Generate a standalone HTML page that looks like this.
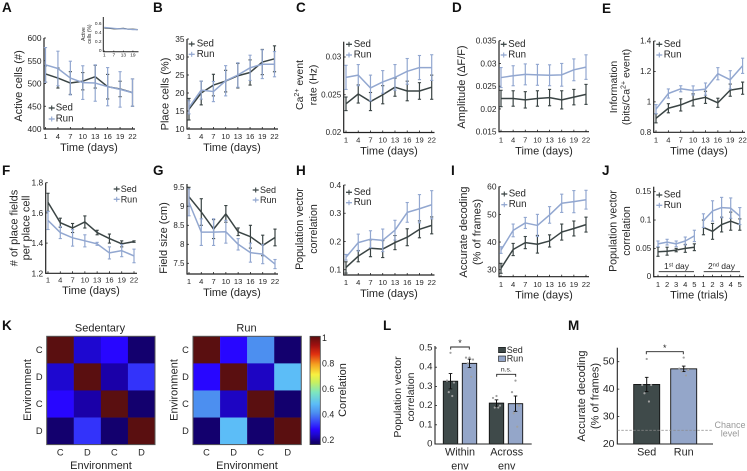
<!DOCTYPE html>
<html lang="en">
<head>
<meta charset="utf-8">
<title>Behavioral and calcium imaging panels</title>
<style>
html,body{margin:0;padding:0;background:#fff;}
svg{display:block;filter:blur(.3px);}
text{font-family:"Liberation Sans",Arial,sans-serif;fill:#262626;}
.ltr{font-weight:bold;font-size:13.5px;fill:#111;}
.t{font-size:11px;text-anchor:middle;dominant-baseline:central;}
.yl{font-size:11px;text-anchor:middle;dominant-baseline:central;}
</style>
</head>
<body>
<svg id="fig" xmlns="http://www.w3.org/2000/svg" width="747" height="471" viewBox="0 0 747 471">
<rect width="747" height="471" fill="#fff"/>
<g>
<text class="ltr" x="2" y="12">A</text>
<text class="ltr" x="153" y="12">B</text>
<text class="ltr" x="296" y="12">C</text>
<text class="ltr" x="452" y="12">D</text>
<text class="ltr" x="602" y="13">E</text>
<text class="ltr" x="2" y="175">F</text>
<text class="ltr" x="153" y="175">G</text>
<text class="ltr" x="296" y="175">H</text>
<text class="ltr" x="451" y="175">I</text>
<text class="ltr" x="602" y="175">J</text>
<text class="ltr" x="2" y="330">K</text>
<text class="ltr" x="383" y="330">L</text>
<text class="ltr" x="568" y="330">M</text>
</g>
<g>
<text class="t" x="89" y="148">Time (days)</text>
<text class="t" x="232" y="148">Time (days)</text>
<text class="t" x="389" y="151.5">Time (days)</text>
<text class="t" x="544" y="151.5">Time (days)</text>
<text class="t" x="699" y="151.5">Time (days)</text>
<text class="t" x="91" y="291">Time (days)</text>
<text class="t" x="232" y="293">Time (days)</text>
<text class="t" x="389" y="294">Time (days)</text>
<text class="t" x="544" y="295.5">Time (days)</text>
<text class="t" x="699" y="295.5">Time (trials)</text>
<text class="yl" transform="translate(19,86) rotate(-90)">Active cells (#)</text>
<text class="yl" transform="translate(165.5,94) rotate(-90)">Place cells (%)</text>
<text class="yl" transform="translate(300,85) rotate(-90)" style="font-size:10.5px">Ca<tspan dy="-3" font-size="7">2+</tspan><tspan dy="3"> event</tspan></text>
<text class="yl" transform="translate(313.5,85) rotate(-90)" style="font-size:10.5px">rate (Hz)</text>
<text class="yl" transform="translate(462,87) rotate(-90)">Amplitude (ΔF/F)</text>
<text class="yl" transform="translate(614,87) rotate(-90)" style="font-size:10.5px">Information</text>
<text class="yl" transform="translate(626.5,87) rotate(-90)" style="font-size:10.5px">(bits/Ca<tspan dy="-3" font-size="7">2+</tspan><tspan dy="3"> event)</tspan></text>
<text class="yl" transform="translate(14.5,228) rotate(-90)"># of place fields</text>
<text class="yl" transform="translate(26.5,228) rotate(-90)">per place cell</text>
<text class="yl" transform="translate(164,238) rotate(-90)">Field size (cm)</text>
<text class="yl" transform="translate(300,229) rotate(-90)" style="font-size:10.6px">Population vector</text>
<text class="yl" transform="translate(314,229) rotate(-90)" style="font-size:10.6px">correlation</text>
<text class="yl" transform="translate(464,232) rotate(-90)">Accurate decoding</text>
<text class="yl" transform="translate(477.5,232) rotate(-90)">(% of frames)</text>
<text class="yl" transform="translate(613.5,231) rotate(-90)" style="font-size:10.6px">Population vector</text>
<text class="yl" transform="translate(627,231) rotate(-90)" style="font-size:10.6px">correlation</text>
<text x="676.5" y="269" text-anchor="middle" font-size="8.5">1<tspan dy="-2.5" font-size="5.5">st</tspan><tspan dy="2.5"> day</tspan></text>
<text x="721.5" y="269" text-anchor="middle" font-size="8.5">2<tspan dy="-2.5" font-size="5.5">nd</tspan><tspan dy="2.5"> day</tspan></text>
<text transform="translate(84,34) rotate(-90)" text-anchor="middle" dominant-baseline="central" font-size="5">Active</text>
<text transform="translate(90,34) rotate(-90)" text-anchor="middle" dominant-baseline="central" font-size="5">cells (%)</text>
<text x="100" y="328.5" text-anchor="middle" dominant-baseline="central" font-size="11">Sedentary</text>
<text x="246.5" y="328.5" text-anchor="middle" dominant-baseline="central" font-size="11">Run</text>
<text x="101" y="466" text-anchor="middle" dominant-baseline="central" font-size="11">Environment</text>
<text x="247" y="466" text-anchor="middle" dominant-baseline="central" font-size="11">Environment</text>
<text transform="translate(28,390) rotate(-90)" text-anchor="middle" dominant-baseline="central" font-size="11">Environment</text>
<text transform="translate(174.5,390) rotate(-90)" text-anchor="middle" dominant-baseline="central" font-size="11">Environment</text>
<text transform="translate(343,390) rotate(-90)" text-anchor="middle" dominant-baseline="central" font-size="11">Correlation</text>
<text transform="translate(398,397) rotate(-90)" text-anchor="middle" dominant-baseline="central" font-size="10.5">Population vector</text>
<text transform="translate(411,397) rotate(-90)" text-anchor="middle" dominant-baseline="central" font-size="10.5">correlation</text>
<text transform="translate(582,396) rotate(-90)" text-anchor="middle" dominant-baseline="central" font-size="11">Accurate decoding</text>
<text transform="translate(595.5,396) rotate(-90)" text-anchor="middle" dominant-baseline="central" font-size="11">(% of frames)</text>
<text x="730" y="428" text-anchor="middle" font-size="9" style="fill:#999">Chance</text>
<text x="730" y="436.5" text-anchor="middle" font-size="9" style="fill:#999">level</text>
</g>
</svg>
<script>
const seriesNames = ['Sed', 'Run'];
const days = [1, 4, 7, 10, 13, 16, 19, 22];
const trials = [1, 2, 3, 4, 5, 1, 2, 3, 4, 5];
const insetDays = [1, 4, 7, 10, 13, 16, 19, 22];
const insetDayLabels = [1, 7, 13, 19];

const aTicks = [400, 450, 500, 550, 600];
const aSed = [521, 512, 501, 505, 515, 493, 488, 480];
const aRun = [541, 533, 512, 502, 501, 493, 487, 480];
const aSedErr = [18, 22, 25, 19, 25, 27, 17, 30];
const aRunErr = [38, 38, 37, 37, 40, 42, 39, 30];
const insetTicks = [0, 0.2, 0.4, 0.6];
const insetSed = [0.53, 0.52, 0.51, 0.51, 0.52, 0.5, 0.5, 0.49];
const insetRun = [0.54, 0.53, 0.52, 0.51, 0.51, 0.5, 0.49, 0.49];

const bTicks = [10, 15, 20, 25, 30, 35];
const bSed = [15.5, 20, 22.2, 23.3, 24.8, 25.7, 28.6, 29.5];
const bRun = [16, 20.8, 20.4, 23.4, 25, 27, 28, 28];
const bSedErr = [3, 3.3, 3, 3, 3.4, 3.5, 3.5, 3.6];
const bRunErr = [1.8, 2.5, 2.8, 4.2, 3.4, 3.5, 4, 3.5];

const cTicks = [0.02, 0.025, 0.03];
const cSed = [0.0238, 0.0251, 0.0241, 0.025, 0.026, 0.0255, 0.0255, 0.026];
const cRun = [0.0273, 0.0276, 0.0259, 0.0267, 0.0273, 0.0281, 0.0286, 0.0286];
const cSedErr = [0.0009, 0.0012, 0.0012, 0.0012, 0.0012, 0.0013, 0.0011, 0.0016];
const cRunErr = [0.0016, 0.0014, 0.0017, 0.0015, 0.0017, 0.0017, 0.0016, 0.0017];

const dTicks = [0.015, 0.02, 0.025, 0.03, 0.035];
const dSed = [0.0223, 0.0223, 0.022, 0.0223, 0.0225, 0.022, 0.0226, 0.0232];
const dRun = [0.0269, 0.0273, 0.0276, 0.0275, 0.0274, 0.0275, 0.0286, 0.0292];
const dSedErr = [0.0018, 0.0017, 0.0018, 0.0017, 0.0018, 0.002, 0.0017, 0.0022];
const dRunErr = [0.0022, 0.0022, 0.0023, 0.0023, 0.0023, 0.0025, 0.0024, 0.0027];

const eTicks = [0.8, 1, 1.2, 1.4];
const eSed = [0.892, 0.958, 0.98, 1.013, 1.03, 0.994, 1.077, 1.09];
const eRun = [0.952, 1.055, 1.086, 1.075, 1.084, 1.185, 1.145, 1.237];
const eSedErr = [0.03, 0.03, 0.04, 0.04, 0.04, 0.03, 0.04, 0.04];
const eRunErr = [0.03, 0.03, 0.02, 0.03, 0.04, 0.04, 0.06, 0.05];

const fTicks = [1.2, 1.4, 1.6, 1.8];
const fSed = [1.67, 1.535, 1.5, 1.54, 1.47, 1.43, 1.395, 1.41];
const fRun = [1.55, 1.47, 1.435, 1.415, 1.395, 1.335, 1.35, 1.315];
const fSedErr = [0.06, 0.03, 0.03, 0.04, 0.015, 0.03, 0.02, 0.005];
const fRunErr = [0.06, 0.04, 0.055, 0.04, 0.01, 0.04, 0.04, 0.045];

const gTicks = [7.5, 8, 8.5, 9, 9.5];
const gSed = [9.25, 8.85, 8.4, 8.8, 8.33, 8.2, 7.97, 8.18];
const gRun = [9.1, 8.32, 8.32, 8.33, 8, 7.78, 7.74, 7.48];
const gSedErr = [0.25, 0.35, 0.25, 0.22, 0.1, 0.3, 0.27, 0.22];
const gRunErr = [0.35, 0.35, 0.35, 0.3, 0.15, 0.25, 0.25, 0.12];

const hTicks = [0.1, 0.2, 0.3, 0.4];
const hSed = [0.108, 0.148, 0.176, 0.173, 0.196, 0.215, 0.243, 0.257];
const hRun = [0.144, 0.196, 0.208, 0.204, 0.24, 0.303, 0.316, 0.33];
const hSedErr = [0.02, 0.02, 0.03, 0.03, 0.025, 0.03, 0.03, 0.03];
const hRunErr = [0.01, 0.03, 0.03, 0.04, 0.035, 0.035, 0.05, 0.05];

const iTicks = [30, 40, 50, 60];
const iSed = [30.5, 37.3, 39.8, 39.2, 40.4, 43.6, 44.9, 46.3];
const iRun = [37.1, 44.2, 46.9, 46, 49.8, 54, 54.6, 55.3];
const iSedErr = [1.8, 2.2, 2.2, 3.2, 2.2, 2.9, 2.7, 2.7];
const iRunErr = [1.2, 2.3, 2, 4, 3, 3.3, 4, 3.4];

const jTicks = [0, 0.05, 0.1, 0.15];
const jSed = [0.044, 0.045, 0.047, 0.05, 0.052, 0.087, 0.08, 0.092, 0.098, 0.092];
const jRun = [0.058, 0.061, 0.058, 0.063, 0.072, 0.099, 0.116, 0.122, 0.121, 0.107];
const jSedErr = [0.008, 0.007, 0.003, 0.007, 0.006, 0.013, 0.014, 0.013, 0.016, 0.01];
const jRunErr = [0.005, 0.005, 0.005, 0.007, 0.01, 0.012, 0.018, 0.018, 0.018, 0.015];

const envLabels = ['C', 'D', 'C', 'D'];
const sedMatrix = [[1, 0.23, 0.27, 0.17], [0.23, 1, 0.2, 0.31], [0.27, 0.2, 1, 0.17], [0.17, 0.31, 0.17, 1]];
const runMatrix = [[1, 0.27, 0.4, 0.17], [0.27, 1, 0.22, 0.47], [0.4, 0.22, 1, 0.17], [0.17, 0.47, 0.17, 1]];
const colorbarTicks = [0.2, 0.4, 0.6, 0.8, 1];

const lTicks = [0, 0.1, 0.2, 0.3, 0.4, 0.5];
const lGroups = ['Within', 'Across'];
const lSedBars = [0.327, 0.213];
const lRunBars = [0.42, 0.21];
const lSedErr = [0.04, 0.017];
const lRunErr = [0.022, 0.04];
const lSedDots = [[0.475, 0.33, 0.32, 0.27, 0.25], [0.25, 0.24, 0.2, 0.19, 0.19]];
const lRunDots = [[0.45, 0.45, 0.44, 0.42, 0.35], [0.33, 0.27, 0.2, 0.16, 0.09]];

const mTicks = [20, 30, 40, 50];
const mBars = [41.7, 47.4];
const mErr = [2.6, 1];
const mDots = [[51, 41.5, 41.5, 38.5, 35.5], [51.5, 47.5, 47, 46.5, 45]];
const chanceLevel = 25;

const NS = 'http://www.w3.org/2000/svg';
const SED = '#3a4444';
const RUN = '#92a7d0';
const AX = '#222222';
const fig = document.getElementById('fig');

function el(parent, tag, attrs, name) {
  const e = document.createElementNS(NS, tag);
  for (const k in attrs) e.setAttribute(k, attrs[k]);
  
  
  parent.appendChild(e);
  return e;
}
function ln(parent, x1, y1, x2, y2, stroke, w, name) {
  return el(parent, 'line', {x1: x1, y1: y1, x2: x2, y2: y2, stroke: stroke, 'stroke-width': w}, name);
}
function label(parent, x, y, str, size, anchor, name) {
  const t = el(parent, 'text', {x: x, y: y, 'font-size': size, 'text-anchor': anchor, 'dominant-baseline': 'central'}, name);
  t.textContent = str;
  return t;
}
function linScale(v0, p0, v1, p1) {
  return function (v) { return p0 + (v - v0) * (p1 - p0) / (v1 - v0); };
}

function series(g, xs, y, vals, errs, color, name, breakAfter) {
  const segs = breakAfter === undefined ? [[0, vals.length - 1]] : [[0, breakAfter], [breakAfter + 1, vals.length - 1]];
  segs.forEach(function (s, si) {
    const pts = [];
    for (let i = s[0]; i <= s[1]; i++) pts.push(xs(i).toFixed(2) + ',' + y(vals[i]).toFixed(2));
    el(g, 'polyline', {points: pts.join(' '), fill: 'none', stroke: color, 'stroke-width': 1.5, 'stroke-linejoin': 'round'}, name + '-line-' + si);
  });
  vals.forEach(function (v, i) {
    const x = xs(i);
    ln(g, x, y(v - errs[i]), x, y(v + errs[i]), color, 1.2, name + '-error-' + i);
    ln(g, x - 1.6, y(v - errs[i]), x + 1.6, y(v - errs[i]), color, 1.1, name + '-cap-low-' + i);
    ln(g, x - 1.6, y(v + errs[i]), x + 1.6, y(v + errs[i]), color, 1.1, name + '-cap-high-' + i);
  });
}

function panel(p) {
  const g = el(fig, 'g', {}, 'panel-' + p.id);
  const y = linScale(p.ticks[0], p.y0, p.ticks[p.ticks.length - 1], p.y1);
  const n = p.cats.length;
  const xs = function (i) { return p.x0 + i * (p.x1 - p.x0) / (n - 1); };
  ln(g, p.ax, p.top, p.ax, p.bottom + 0.6, AX, 1.2, p.id + '-y-axis');
  ln(g, p.ax, p.bottom, p.xEnd, p.bottom, AX, 1.2, p.id + '-x-axis');
  p.ticks.forEach(function (t, i) {
    ln(g, p.ax, y(t), p.ax + 2, y(t), AX, 0.8, p.id + '-y-tick-' + i);
    label(g, p.ax - 2.5, y(t), String(t), p.fs, 'end', p.id + '-y-tick-label-' + i);
  });
  p.cats.forEach(function (c, i) {
    ln(g, xs(i), p.bottom, xs(i), p.bottom - 2, AX, 0.8, p.id + '-x-tick-' + i);
    label(g, xs(i), p.tickY, String(c), 7.6, 'middle', p.id + '-x-tick-label-' + i);
  });
  series(g, xs, y, p.sed, p.sedErr, SED, p.id + '-sed', p.breakAfter);
  series(g, xs, y, p.run, p.runErr, RUN, p.id + '-run', p.breakAfter);
  seriesNames.forEach(function (nm, i) {
    const c = i === 0 ? SED : RUN;
    const ly = i === 0 ? p.leg[2] : p.leg[3];
    ln(g, p.leg[0] - 3, ly, p.leg[0] + 3, ly, c, 1.3, p.id + '-legend-line-' + nm);
    ln(g, p.leg[0], ly - 2.5, p.leg[0], ly + 2.5, c, 1.1, p.id + '-legend-tick-' + nm);
    label(g, p.leg[1], ly, nm, p.legFs || 9.7, 'start', p.id + '-legend-label-' + nm);
  });
}

panel({id: 'a', cats: days, ticks: aTicks, sed: aSed, run: aRun, sedErr: aSedErr, runErr: aRunErr, ax: 44, top: 38, bottom: 129, xEnd: 135, x0: 45.5, x1: 132.5, y0: 129, y1: 38, tickY: 136.7, fs: 8.4, leg: [51.7, 55.7, 108, 119]});
panel({id: 'b', cats: days, ticks: bTicks, sed: bSed, run: bRun, sedErr: bSedErr, runErr: bRunErr, ax: 187, top: 39, bottom: 129, xEnd: 278, x0: 189, x1: 274.5, y0: 129, y1: 39, tickY: 136.7, fs: 8.3, leg: [191.7, 196.7, 44, 54.3]});
panel({id: 'c', cats: days, ticks: cTicks, sed: cSed, run: cRun, sedErr: cSedErr, runErr: cRunErr, ax: 343.7, top: 41.7, bottom: 132.5, xEnd: 434.5, x0: 346, x1: 431.7, y0: 132.5, y1: 57, tickY: 140, fs: 8, leg: [349, 353.7, 44.3, 55]});
panel({id: 'd', cats: days, ticks: dTicks, sed: dSed, run: dRun, sedErr: dSedErr, runErr: dRunErr, ax: 499, top: 40.7, bottom: 131.7, xEnd: 589, x0: 501, x1: 586, y0: 131.7, y1: 40.7, tickY: 140, fs: 8.3, leg: [503.7, 508.3, 44.3, 55]});
panel({id: 'e', cats: days, ticks: eTicks, sed: eSed, run: eRun, sedErr: eSedErr, runErr: eRunErr, ax: 653.7, top: 41, bottom: 132.3, xEnd: 745, x0: 656, x1: 742.6, y0: 132.3, y1: 41, tickY: 140, fs: 8, leg: [659.3, 663.7, 44.3, 55]});
panel({id: 'f', cats: days, ticks: fTicks, sed: fSed, run: fRun, sedErr: fSedErr, runErr: fRunErr, ax: 45.7, top: 182.7, bottom: 273.3, xEnd: 137, x0: 48, x1: 134, y0: 273.3, y1: 182.7, tickY: 280, fs: 8.4, leg: [116.7, 120.7, 189, 199.3], legFs: 9});
panel({id: 'g', cats: days, ticks: gTicks, sed: gSed, run: gRun, sedErr: gSedErr, runErr: gRunErr, ax: 187, top: 184, bottom: 274, xEnd: 278, x0: 189, x1: 275, y0: 263.3, y1: 187.3, tickY: 281.7, fs: 8, leg: [255.7, 260, 190, 200], legFs: 9});
panel({id: 'h', cats: days, ticks: hTicks, sed: hSed, run: hRun, sedErr: hSedErr, runErr: hRunErr, ax: 343.7, top: 185, bottom: 275, xEnd: 434.5, x0: 346, x1: 431.7, y0: 269.7, y1: 185, tickY: 282.7, fs: 8.4, leg: [349, 353.7, 192.3, 202.7]});
panel({id: 'i', cats: days, ticks: iTicks, sed: iSed, run: iRun, sedErr: iSedErr, runErr: iRunErr, ax: 499, top: 186.5, bottom: 276.7, xEnd: 589, x0: 501, x1: 586, y0: 269.7, y1: 186.7, tickY: 284.3, fs: 8.4, leg: [504.3, 508.7, 194, 204.7]});
panel({id: 'j', cats: trials, ticks: jTicks, sed: jSed, run: jRun, sedErr: jSedErr, runErr: jRunErr, ax: 653.7, top: 186.7, bottom: 276.7, xEnd: 744, x0: 658, x1: 739.8, y0: 276.7, y1: 191.7, tickY: 284.3, fs: 8, leg: [659.3, 663.7, 195, 205.3], breakAfter: 4});

/* J day brackets */
ln(fig, 658.7, 271.7, 694, 271.7, AX, 0.9, 'j-day-1-bracket');
ln(fig, 703.7, 271.7, 740, 271.7, AX, 0.9, 'j-day-2-bracket');

/* A inset */
(function () {
  const g = el(fig, 'g', {}, 'panel-a-inset');
  const y = linScale(insetTicks[0], 51.7, insetTicks[insetTicks.length - 1], 24.7);
  const x = linScale(1, 104.3, 22, 137.7);
  ln(g, 103.3, 17, 103.3, 52, AX, 1, 'inset-y-axis');
  ln(g, 103.3, 51.7, 138.5, 51.7, AX, 1, 'inset-x-axis');
  insetTicks.forEach(function (t, i) {
    label(g, 101.5, y(t), String(t), 4.8, 'end', 'inset-y-tick-label-' + i);
  });
  insetDayLabels.forEach(function (d, i) {
    ln(g, x(d), 51.7, x(d), 50.5, AX, 0.6, 'inset-x-tick-' + i);
    label(g, x(d), 56, String(d), 4.8, 'middle', 'inset-x-tick-label-' + i);
  });
  const ptsS = insetDays.map(function (d, i) { return x(d) + ',' + y(insetSed[i]); });
  const ptsR = insetDays.map(function (d, i) { return x(d) + ',' + y(insetRun[i]); });
  el(g, 'polyline', {points: ptsS.join(' '), fill: 'none', stroke: SED, 'stroke-width': 1.2}, 'inset-sed-line');
  el(g, 'polyline', {points: ptsR.join(' '), fill: 'none', stroke: RUN, 'stroke-width': 1.2}, 'inset-run-line');
})();

/* K heatmaps */
const jetStops = [[0.15, '#10006a'], [0.17, '#13006e'], [0.2, '#1a00a8'], [0.23, '#1e08d0'], [0.27, '#2806ff'], [0.31, '#3333fa'], [0.4, '#4c8ff0'], [0.47, '#5cbdf7'], [0.56, '#7de6c0'], [0.64, '#c8f060'], [0.7, '#f8f040'], [0.78, '#f5a020'], [0.86, '#e03010'], [0.93, '#a01010'], [1, '#5a0f10']];
function hexToRgb(h) { return [1, 3, 5].map(function (i) { return parseInt(h.substr(i, 2), 16); }); }
function jet(v) {
  for (let i = 1; i < jetStops.length; i++) {
    if (v <= jetStops[i][0]) {
      const a = jetStops[i - 1], b = jetStops[i];
      const f = Math.max(0, (v - a[0]) / (b[0] - a[0]));
      const ca = hexToRgb(a[1]), cb = hexToRgb(b[1]);
      return 'rgb(' + ca.map(function (c, k) { return Math.round(c + (cb[k] - c) * f); }).join(',') + ')';
    }
  }
  return jetStops[jetStops.length - 1][1];
}
function heatmap(id, matrix, left) {
  const g = el(fig, 'g', {}, 'heatmap-' + id);
  const top = 336.3, size = 108.3, cell = size / matrix.length;
  matrix.forEach(function (row, r) {
    row.forEach(function (v, c) {
      el(g, 'rect', {x: left + c * cell, y: top + r * cell, width: cell + 0.2, height: cell + 0.2, fill: jet(v)}, id + '-cell-' + r + '-' + c);
    });
    label(g, left - 7.5, top + (r + 0.5) * cell, envLabels[r], 9.3, 'middle', id + '-row-label-' + r);
    label(g, left + (r + 0.5) * cell, 452.7, envLabels[r], 9.3, 'middle', id + '-col-label-' + r);
  });
  el(g, 'rect', {x: left, y: top, width: size, height: size, fill: 'none', stroke: '#555', 'stroke-width': 1}, id + '-frame');
}
heatmap('sedentary', sedMatrix, 46.7);
heatmap('run', runMatrix, 193);

/* colorbar */
(function () {
  const g = el(fig, 'g', {}, 'colorbar');
  const y = linScale(0.2, 440, 1, 338);
  const defs = el(g, 'defs', {}, 'colorbar-defs');
  const grad = el(defs, 'linearGradient', {id: 'cbg', x1: 0, y1: 1, x2: 0, y2: 0}, 'colorbar-gradient');
  jetStops.forEach(function (s, i) {
    el(grad, 'stop', {offset: (s[0] - 0.15) / 0.85, 'stop-color': s[1]}, 'colorbar-stop-' + i);
  });
  el(g, 'rect', {x: 310, y: 336.3, width: 10.3, height: 108.3, fill: 'url(#cbg)', stroke: '#444', 'stroke-width': 0.8}, 'colorbar-bar');
  colorbarTicks.forEach(function (t, i) {
    label(g, 322, y(t), String(t), 8.8, 'start', 'colorbar-label-' + i);
  });
})();

function dots(g, vals, cx, spread, y, name) {
  vals.forEach(function (v, i) {
    const off = [0, -1, 1, -0.5, 0.5][i % 5] * spread;
    el(g, 'circle', {cx: cx + off, cy: y(v), r: 1.1, fill: '#a0a0a0'}, name + '-' + i);
  });
}
function errBar(g, x, y0, y1, name) {
  ln(g, x, y0, x, y1, '#111', 1, name + '-stem');
  ln(g, x - 1.8, y0, x + 1.8, y0, '#111', 0.9, name + '-cap-low');
  ln(g, x - 1.8, y1, x + 1.8, y1, '#111', 0.9, name + '-cap-high');
}
function bar(g, left, w, v, e, y, base, fill, name) {
  el(g, 'rect', {x: left, y: y(v), width: w, height: base - y(v), fill: fill, stroke: '#111', 'stroke-width': 0.9}, name);
  errBar(g, left + w / 2, y(v - e), y(v + e), name + '-error');
}
function bracket(g, x0, x1, yy, name) {
  el(g, 'polyline', {points: x0 + ',' + (yy + 2.5) + ' ' + x0 + ',' + yy + ' ' + x1 + ',' + yy + ' ' + x1 + ',' + (yy + 2.5), fill: 'none', stroke: '#222', 'stroke-width': 0.9}, name);
}

/* L */
(function () {
  const g = el(fig, 'g', {}, 'panel-l');
  const y = linScale(0, 444, 0.5, 348);
  const sedLeft = [443.3, 489.3], runLeft = [462.3, 508.3], centers = [460, 506.7];
  lGroups.forEach(function (name, i) {
    bar(g, sedLeft[i], 14.4, lSedBars[i], lSedErr[i], y, 444, '#3f4a4a', 'l-bar-sed-' + name.toLowerCase());
    bar(g, runLeft[i], 14.4, lRunBars[i], lRunErr[i], y, 444, '#94a6c9', 'l-bar-run-' + name.toLowerCase());
    dots(g, lSedDots[i], sedLeft[i] + 7.2, 3.5, y, 'l-dot-sed-' + i);
    dots(g, lRunDots[i], runLeft[i] + 7.2, 3.5, y, 'l-dot-run-' + i);
    label(g, centers[i], 452.7, name, 10.8, 'middle', 'l-group-label-' + i);
    label(g, centers[i], 466.5, 'env', 10.8, 'middle', 'l-group-env-' + i);
  });
  ln(g, 435, 346, 435, 444.5, AX, 1.1, 'l-y-axis');
  ln(g, 435, 444, 531.7, 444, AX, 1.1, 'l-x-axis');
  lTicks.forEach(function (t, i) {
    ln(g, 435, y(t), 437, y(t), AX, 0.8, 'l-y-tick-' + i);
    label(g, 432.5, y(t), String(t), 9.6, 'end', 'l-y-tick-label-' + i);
  });
  bracket(g, 450.7, 469.3, 347, 'l-sig-bracket');
  label(g, 460, 343, '*', 9, 'middle', 'l-sig-star');
  bracket(g, 496.7, 515.7, 374.3, 'l-ns-bracket');
  label(g, 506.3, 370, 'n.s.', 6.8, 'middle', 'l-ns-label');
  seriesNames.forEach(function (nm, i) {
    const ly = i === 0 ? 350 : 358.7;
    el(g, 'rect', {x: 498.5, y: ly - 2.7, width: 7, height: 5.4, fill: i === 0 ? '#3f4a4a' : '#94a6c9', stroke: '#111', 'stroke-width': 0.6}, 'l-legend-swatch-' + nm);
    label(g, 506.7, ly, nm, 9, 'start', 'l-legend-label-' + nm);
  });
})();

/* M */
(function () {
  const g = el(fig, 'g', {}, 'panel-m');
  const y = linScale(20, 444, 50, 361.7);
  const left = [633.7, 670.7], fills = ['#3f4a4a', '#94a6c9'];
  mBars.forEach(function (v, i) {
    bar(g, left[i], 26, v, mErr[i], y, 444, fills[i], 'm-bar-' + seriesNames[i].toLowerCase());
    dots(g, mDots[i], left[i] + 13, 4.5, y, 'm-dot-' + i);
    label(g, left[i] + 13, 452.7, seriesNames[i], 10.8, 'middle', 'm-x-label-' + i);
  });
  ln(g, 617.3, 347.7, 617.3, 444.5, AX, 1.1, 'm-y-axis');
  ln(g, 617.3, 444, 713, 444, AX, 1.1, 'm-x-axis');
  mTicks.forEach(function (t, i) {
    ln(g, 617.3, y(t), 619.3, y(t), AX, 0.8, 'm-y-tick-' + i);
    label(g, 614.5, y(t), String(t), 10.5, 'end', 'm-y-tick-label-' + i);
  });
  el(g, 'line', {x1: 617.3, y1: y(chanceLevel), x2: 713, y2: y(chanceLevel), stroke: '#8a8a8a', 'stroke-width': 0.8, 'stroke-dasharray': '2.5 1.5'}, 'm-chance-line');
  bracket(g, 646.3, 683.3, 351.7, 'm-sig-bracket');
  label(g, 664.8, 348, '*', 9, 'middle', 'm-sig-star');
})();
</script>
</body>
</html>
